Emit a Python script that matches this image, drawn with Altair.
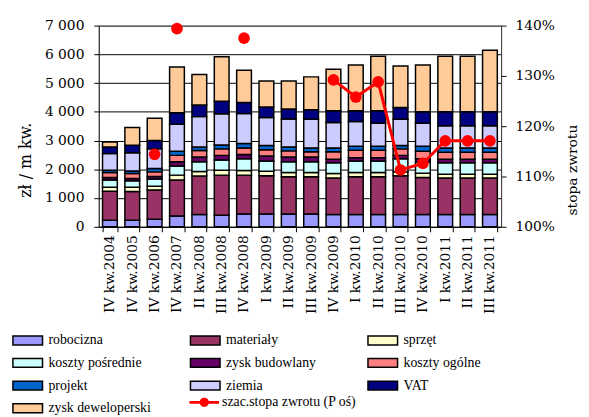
import altair as alt
import pandas as pd

categories = ["IV kw.2004", "IV kw.2005", "IV kw.2006", "IV kw.2007", "II kw.2008",
              "III kw.2008", "IV kw.2008", "I kw.2009", "II kw.2009", "III kw.2009",
              "IV kw.2009", "I kw.2010", "II kw.2010", "III kw.2010", "IV kw.2010",
              "I kw.2011", "II kw.2011", "III kw.2011"]

series_names = ["robocizna", "materiały", "sprzęt", "koszty pośrednie", "zysk budowlany",
                "koszty ogólne", "projekt", "ziemia", "VAT", "zysk deweloperski"]
series_colors = ["#9999FF", "#993366", "#FFFFCC", "#CCFFFF", "#660066",
                 "#FF8080", "#0066CC", "#CCCCFF", "#000080", "#FFCC99"]

robocizna = [230, 230, 264, 378, 426, 402, 446, 446, 446, 446, 426, 426, 426, 426, 426, 426, 426, 426]
materialy = [1005, 995, 1019, 1249, 1338, 1396, 1352, 1328, 1294, 1294, 1269, 1314, 1314, 1348, 1290, 1269, 1269, 1269]
sprzet = [138, 148, 124, 171, 158, 172, 158, 161, 147, 147, 158, 147, 147, 137, 151, 137, 137, 137]
koszty_posrednie = [254, 229, 254, 319, 343, 353, 412, 354, 378, 378, 378, 402, 402, 457, 380, 399, 399, 399]
zysk_budowlany = [89, 80, 89, 148, 161, 162, 151, 172, 161, 161, 116, 113, 113, 117, 120, 116, 116, 116]
koszty_ogolne = [171, 171, 161, 220, 230, 226, 226, 216, 216, 182, 261, 264, 264, 226, 265, 250, 250, 250]
projekt = [83, 92, 114, 147, 124, 137, 151, 151, 138, 137, 137, 138, 138, 117, 172, 148, 148, 148]
ziemia = [583, 629, 686, 937, 1053, 1088, 1050, 971, 974, 996, 882, 857, 800, 913, 800, 769, 769, 769]
vat = [227, 264, 288, 401, 402, 436, 378, 367, 343, 332, 412, 378, 435, 411, 401, 491, 491, 491]
zysk_deweloperski = [171, 618, 776, 1590, 1063, 1544, 1122, 903, 972, 1143, 1441, 1589, 1898, 1442, 1623, 1932, 1932, 2138]

rate_label = "szac.stopa zwrotu (P oś)"
stopa_zwrotu = [None, None, 1.144, 1.394, None, None, 1.375, None, None, None,
                1.292, 1.258, 1.288, 1.113, 1.126, 1.171, 1.171, 1.171]
rate_segment = [None, None, 0, 1, None, None, 2, None, None, None, 3, 3, 3, 3, 3, 3, 3, 3]

y_ticks = [0, 1000, 2000, 3000, 4000, 5000, 6000, 7000]
rate_ticks = [1.0, 1.1, 1.2, 1.3, 1.4]

all_series = [robocizna, materialy, sprzet, koszty_posrednie, zysk_budowlany,
              koszty_ogolne, projekt, ziemia, vat, zysk_deweloperski]

rows = []
for k, (name, vals) in enumerate(zip(series_names, all_series)):
    for c, v in zip(categories, vals):
        rows.append({"kat": c, "seria": name, "val": v, "k": k})
df = pd.DataFrame(rows)

rrows = []
for c, r, s in zip(categories, stopa_zwrotu, rate_segment):
    if r is not None:
        rrows.append({"kat": c, "rate": r, "seg": s, "lbl": rate_label})
rdf = pd.DataFrame(rrows)

AX_FONT = "DejaVu Serif"
LEG_FONT = "Liberation Serif"
# legend symbols: size 100 -> path unit = 5 px
rect_path = "M-3,-0.9H3V0.9H-3Z"
line_path = "M-3,-0.27H3V0.27H-3Z M0.95,0A0.95,0.95 0 1,1 -0.95,0A0.95,0.95 0 1,1 0.95,0Z"

x_enc = alt.X("kat:N", sort=categories,
              scale=alt.Scale(paddingInner=0.34, paddingOuter=0.17),
              axis=alt.Axis(title=None, labelAngle=-90, labelAlign="right", labelBaseline="middle",
                            labelFont=AX_FONT, labelFontSize=14, labelColor="black",
                            tickBand="extent", tickSize=5, tickColor="black",
                            domainColor="black", labelPadding=3, grid=False))

bars = alt.Chart(df).mark_bar(stroke="black", strokeWidth=1.5).encode(
    x=x_enc,
    y=alt.Y("sum(val):Q", stack="zero",
            scale=alt.Scale(domain=[0, 7000], nice=False),
            axis=alt.Axis(title="zł / m kw.", values=y_ticks,
                          labelExpr="replace(format(datum.value, ','), ',', ' ')",
                          labelFont=AX_FONT, labelFontSize=14, labelColor="black",
                          tickSize=5, tickColor="black", domainColor="black", labelPadding=10,
                          grid=True, gridColor="black", gridWidth=1,
                          titleFont=AX_FONT, titleFontSize=16, titleFontWeight="normal",
                          titleColor="black", titleAngle=270, titleX=-74, titleY=136,
                          titleAlign="center", titleBaseline="middle")),
    fill=alt.Fill("seria:N", scale=alt.Scale(domain=series_names, range=series_colors),
                  legend=alt.Legend(orient="none", legendX=-79, legendY=312, title=None,
                                    direction="horizontal",
                                    columns=3, gridAlign="all", columnPadding=37, rowPadding=7,
                                    symbolType=rect_path, symbolSize=100,
                                    symbolStrokeColor="black", symbolStrokeWidth=1.5,
                                    labelFont=LEG_FONT, labelFontSize=14, labelColor="black",
                                    labelOffset=14, labelLimit=300)),
    order=alt.Order("k:Q", sort="ascending"),
)

rate_y = alt.Y("rate:Q", scale=alt.Scale(domain=[1.0, 1.4], nice=False, zero=False),
               axis=alt.Axis(orient="right", title="stopa  zwrotu", values=rate_ticks, format=".0%",
                             labelFont=AX_FONT, labelFontSize=14, labelColor="black",
                             tickSize=5, tickColor="black", domainColor="#333333", labelPadding=9,
                             grid=False, titleFont=AX_FONT, titleFontSize=14,
                             titleFontWeight="normal", titleColor="black", titleAngle=270,
                             titleX=72, titleY=146, titleAlign="center", titleBaseline="middle"))

line = alt.Chart(rdf).mark_line(color="#FF0000", strokeWidth=3).encode(
    x=alt.X("kat:N", sort=categories), y=rate_y, detail="seg:N")

points = alt.Chart(rdf).mark_circle(size=140, opacity=1).encode(
    x=alt.X("kat:N", sort=categories), y=rate_y,
    color=alt.Color("lbl:N", scale=alt.Scale(domain=[rate_label], range=["#FF0000"]),
                    legend=alt.Legend(orient="none", legendX=100, legendY=375, title=None,
                                      symbolType=line_path, symbolSize=100,
                                      symbolStrokeWidth=0, symbolFillColor="#FF0000",
                                      labelFont=LEG_FONT, labelFontSize=14, labelColor="black",
                                      labelOffset=11, labelLimit=300)))

right = alt.layer(line, points)

chart = alt.layer(bars, right).resolve_scale(y="independent", color="independent", fill="independent").properties(
    width=408, height=204,
    autosize=alt.AutoSizeParams(type="none"),
    padding={"left": 92, "top": 15, "right": 81, "bottom": 190},
).configure_view(stroke=None).configure(background="white")

chart.save("out.html", embed_options={"renderer": "svg", "actions": False})
